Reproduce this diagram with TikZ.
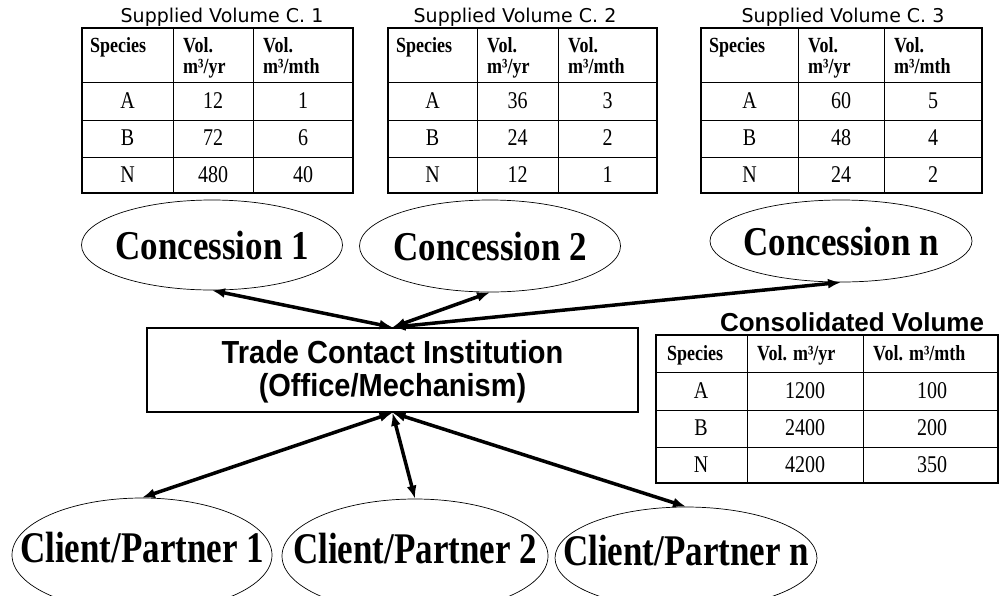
\documentclass[tikz,border=0pt]{standalone}
\usepackage{fontspec}
\usepackage{graphicx}
\setmainfont{Liberation Serif}
\setsansfont{Liberation Sans}
\newfontfamily\widesans{DejaVu Sans}
\usetikzlibrary{shapes.geometric,arrows.meta}

\newcommand{\tallbox}[1]{\scalebox{1}[1.2]{#1}}

\tikzset{
  party/.style={ellipse,draw,line width=0.7pt,inner sep=0pt,font=\fontsize{35}{40}\selectfont\bfseries},
  concession/.style={party,text height=28pt,text depth=0pt},
  client/.style={party,text height=14pt,text depth=0pt},
  hub/.style={rectangle,draw,line width=1.5pt,minimum width=491pt,minimum height=84pt,inner sep=0pt,align=center,font=\sffamily\bfseries\fontsize{29}{29.5}\selectfont},
  link/.style={{Latex[length=13pt,width=10pt]}-{Latex[length=13pt,width=10pt]},line width=3.5pt},
  tabtitle/.style={inner sep=0pt,font=\widesans\fontsize{19}{22}\selectfont},
  bigtitle/.style={inner sep=0pt,font=\sffamily\bfseries\fontsize{26}{30}\selectfont},
  headcell/.style={anchor=north west,inner sep=0pt,align=left,font=\bfseries\fontsize{18}{17.5}\selectfont},
  datacell/.style={inner sep=0pt,font=\fontsize{20}{24}\selectfont},
  frame/.style={line width=2.2pt},
  grid/.style={line width=0.8pt}
}

\begin{document}
\begin{tikzpicture}[x=1pt,y=-1pt]
\useasboundingbox (0,0) rectangle (1000,595);

% supplied volume tables
\foreach \i/\xa/\xb/\xc/\xd/\tx/\aa/\ab/\ba/\bb/\na/\nb in {
  1/82/173/253/353/222/12/1/72/6/480/40,
  2/388/477/558/657/515/36/3/24/2/12/1,
  3/701/798/884/982/843/60/5/48/4/24/2}
{
  \node[tabtitle] (title\i) at (\tx,17) {Supplied Volume C. \i};
  \draw[grid] (\xb,28) -- (\xb,193) (\xc,28) -- (\xc,193);
  \draw[grid] (\xa,82) -- (\xd,82) (\xa,120) -- (\xd,120) (\xa,157) -- (\xd,157);
  \draw[frame] (\xa,28) rectangle (\xd,193);
  \node[headcell] (spec\i) at (\xa+8,37) {\tallbox{Species}};
  \node[headcell] (year\i) at (\xb+10,37) {\tallbox{\begin{tabular}{@{}l@{}}Vol.\\m³/yr\end{tabular}}};
  \node[headcell] (month\i) at (\xc+10,37) {\tallbox{\begin{tabular}{@{}l@{}}Vol.\\m³/mth\end{tabular}}};
  \node[datacell] (ka\i) at ({(\xa+\xb)/2},101) {\tallbox{A}};
  \node[datacell] (kb\i) at ({(\xa+\xb)/2},138) {\tallbox{B}};
  \node[datacell] (kn\i) at ({(\xa+\xb)/2},175) {\tallbox{N}};
  \node[datacell] (ya\i) at ({(\xb+\xc)/2},101) {\tallbox{\aa}};
  \node[datacell] (yb\i) at ({(\xb+\xc)/2},138) {\tallbox{\ba}};
  \node[datacell] (yn\i) at ({(\xb+\xc)/2},175) {\tallbox{\na}};
  \node[datacell] (ma\i) at ({(\xc+\xd)/2},101) {\tallbox{\ab}};
  \node[datacell] (mb\i) at ({(\xc+\xd)/2},138) {\tallbox{\bb}};
  \node[datacell] (mn\i) at ({(\xc+\xd)/2},175) {\tallbox{\nb}};
}

% concessions
\node[concession,minimum width=261pt,minimum height=90pt] (conc1) at (212,245) {\makebox[0pt]{\scalebox{1}[1.17]{Concession 1}}};
\node[concession,minimum width=261pt,minimum height=92pt] (conc2) at (490,246) {\makebox[0pt]{\scalebox{1}[1.17]{Concession 2}}};
\node[concession,minimum width=262pt,minimum height=82pt] (concn) at (841,241) {\makebox[0pt]{\scalebox{1}[1.17]{Concession n}}};

% trade contact institution
\node[hub] (hub) at (392.5,370) {\raisebox{-3pt}[\height][\depth]{\scalebox{1}[1.1]{\begin{tabular}{@{}c@{}}Trade Contact Institution\\(Office/Mechanism)\end{tabular}}}};

% clients
\node[client,minimum width=260pt,minimum height=114pt] (client1) at (142,555) {\makebox[0pt]{\scalebox{1}[1.25]{Client/Partner 1}}};
\node[client,minimum width=266pt,minimum height=114pt] (client2) at (415,556) {\makebox[0pt]{\scalebox{1}[1.25]{Client/Partner 2}}};
\node[client,minimum width=262pt,minimum height=102pt] (clientn) at (686,558) {\makebox[0pt]{\scalebox{1}[1.25]{Client/Partner n}}};

\draw[link] (hub.north) -- (conc1.south);
\draw[link] (hub.north) -- (conc2.south);
\draw[link] (hub.north) -- (concn.south);
\draw[link] (hub.south) -- (client1.north);
\draw[link] (hub.south) -- (client2.north);
\draw[link] (hub.south) -- (clientn.north);

% consolidated volume table
\node[bigtitle] (sumtitle) at (852,322) {Consolidated Volume};
\draw[grid] (747,335) -- (747,483) (863,335) -- (863,483);
\draw[grid] (656,372) -- (998,372) (656,410) -- (998,410) (656,447) -- (998,447);
\draw[frame] (656,335) rectangle (998,483);
\node[headcell,anchor=base west] (sumspec) at (667,360) {\tallbox{Species}};
\node[headcell,anchor=base west] (sumyear) at (757,360) {\tallbox{Vol. m³/yr}};
\node[headcell,anchor=base west] (summonth) at (873,360) {\tallbox{Vol. m³/mth}};
\foreach \k/\yr/\mth/\yy in {A/1200/100/391, B/2400/200/428, N/4200/350/465}
{
  \node[datacell] (sk\k) at (701,\yy) {\tallbox{\k}};
  \node[datacell] (sy\k) at (805,\yy) {\tallbox{\yr}};
  \node[datacell] (sm\k) at (932,\yy) {\tallbox{\mth}};
}

\end{tikzpicture}
\end{document}
